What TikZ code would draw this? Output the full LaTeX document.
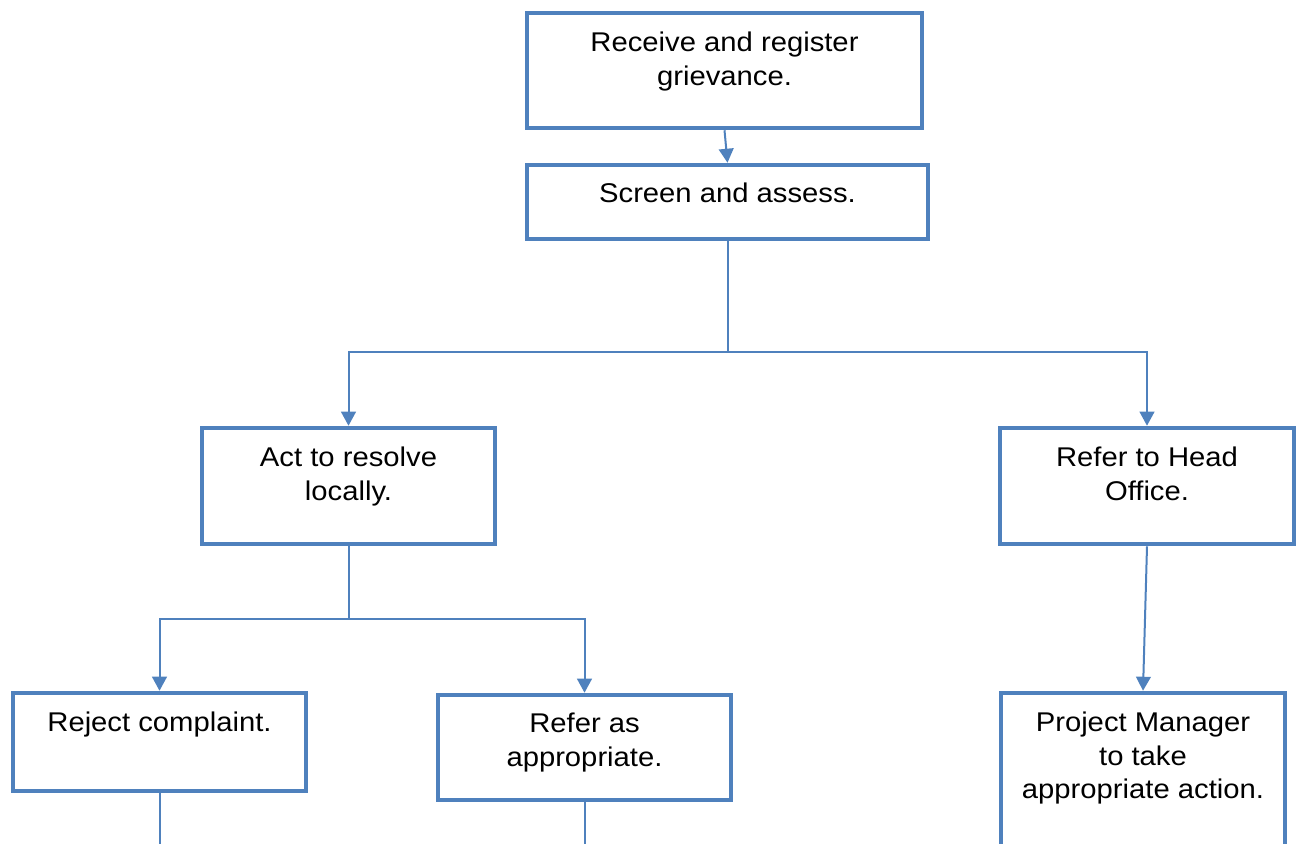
\documentclass[tikz,border=0pt]{standalone}
\usepackage{fontspec}
\setmainfont{Liberation Sans}[FakeStretch=1.08]
\usetikzlibrary{arrows.meta,fit}
\definecolor{boxblue}{HTML}{4F81BD}
\begin{document}
\begin{tikzpicture}[x=0.75pt,y=-0.75pt,
  box/.style={draw=boxblue,line width=3.4pt,inner sep=0pt,fill=none},
  txt/.style={anchor=north,align=center,inner sep=0pt,font=\fontsize{20.3}{25}\selectfont},
  conn/.style={draw=boxblue,line width=1.5pt},
  arr/.style={conn,-{Triangle[width=11pt,length=10.5pt]}}]
\clip (0,0) rectangle (1303,843);
% boxes
\node[box,fit={(527,13) (922,128)}] (r) {};
\node[box,fit={(527,165) (928,239)}] (s) {};
\node[box,fit={(202,428) (495,544)}] (a) {};
\node[box,fit={(1000,428) (1294,544)}] (h) {};
\node[box,fit={(13,693) (306,791)}] (j) {};
\node[box,fit={(438,695) (731,800)}] (f) {};
\node[box,fit={(1001,693) (1285,900)}] (p) {};
% texts
\node[txt] (rt) at (724.5,32) {Receive and register\\grievance.};
\node[txt] (st) at (727.5,183) {Screen and assess.};
\node[txt] (at) at (348.5,447) {Act to resolve\\locally.};
\node[txt] (ht) at (1147,447) {Refer to Head\\Office.};
\node[txt] (jt) at (159.5,712) {Reject complaint.};
\node[txt] (ft) at (584.5,713) {Refer as\\appropriate.};
\node[txt] (pt) at (1143,712) {Project Manager\\to take\\appropriate action.};
% connectors
\coordinate (j1) at (727.5,352);
\coordinate (j2) at (348.5,619);
\coordinate (e1) at (159.5,850);
\coordinate (e2) at (584.5,850);
\draw[arr] (r.south) -- (s.north);
\draw[conn] (s.south) -- (j1);
\draw[arr] (j1) -| (a.north);
\draw[arr] (j1) -| (h.north);
\draw[conn] (a.south) -- (j2);
\draw[arr] (j2) -| (j.north);
\draw[arr] (j2) -| (f.north);
\draw[arr] (h.south) -- (p.north);
\draw[conn] (j.south) -- (e1);
\draw[conn] (f.south) -- (e2);
\end{tikzpicture}
\end{document}
